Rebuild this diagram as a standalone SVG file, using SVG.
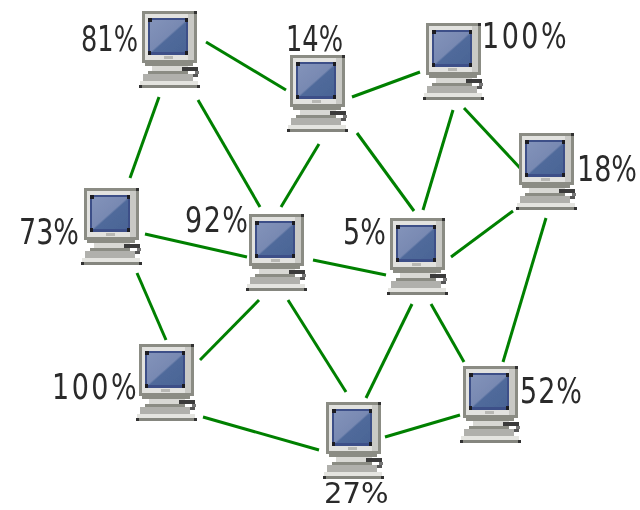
<svg xmlns="http://www.w3.org/2000/svg" width="640" height="510" viewBox="0 0 640 510">
<style>
.e{stroke:#008000;stroke-width:3;fill:none}
.l{font-family:"DejaVu Sans",sans-serif;font-size:27px;fill:#2a2a2a}
.n{filter:url(#soft)}
</style>
<defs>
<filter id="soft" x="-10%" y="-10%" width="120%" height="120%"><feGaussianBlur stdDeviation="0.6"/></filter>
<linearGradient id="s" x1="0" y1="0" x2="1" y2="1"><stop offset="0" stop-color="#8393ba"/><stop offset="0.5" stop-color="#7889b2"/><stop offset="0.54" stop-color="#506a9b"/><stop offset="1" stop-color="#4a6495"/></linearGradient>
<g id="pc">
<rect x="0" y="0" width="55" height="52" fill="#8b8c84"/>
<rect x="3" y="3" width="49" height="46" fill="#e2e2df"/>
<rect x="46" y="3" width="6" height="46" fill="#c9c9c5"/>
<rect x="6" y="7" width="40" height="37" fill="#3c5088"/>
<rect x="8" y="9" width="36" height="32" fill="url(#s)"/>
<rect x="6" y="7" width="4" height="4" fill="#1e1e22"/><rect x="43" y="7" width="3" height="4" fill="#1e1e22"/>
<rect x="6" y="40" width="3" height="4" fill="#1e1e22"/><rect x="43" y="40" width="3" height="4" fill="#1e1e22"/>
<rect x="22" y="45" width="9" height="3" fill="#b8b8b4"/>
<rect x="52" y="0" width="3" height="3" fill="#333"/>
<rect x="3" y="52" width="48" height="3" fill="#8b8c84"/>
<rect x="10" y="55" width="36" height="5" fill="#d8d8d4"/>
<rect x="40" y="56" width="16" height="4" fill="#3a3a3a"/>
<rect x="53" y="60" width="4" height="3" fill="#777"/>
<rect x="50" y="63" width="6" height="3" fill="#555"/>
<rect x="6" y="60" width="40" height="3" fill="#8b8c84"/>
<rect x="1" y="63" width="50" height="7" fill="#b0b0ac"/>
<rect x="-2" y="70" width="58" height="4" fill="#e4e4e0"/>
<rect x="-3" y="74" width="61" height="3" fill="#85867f"/>
<rect x="-3" y="74" width="3" height="3" fill="#333"/><rect x="55" y="74" width="3" height="3" fill="#333"/>
</g>
</defs>
<g id="connectors">
<path class="e" d="M206 42L286 90"/>
<path class="e" d="M159 97L130 178"/>
<path class="e" d="M198 100L260 207"/>
<path class="e" d="M352 97L420 72"/>
<path class="e" d="M319 144L281 207"/>
<path class="e" d="M357 133L414 211"/>
<path class="e" d="M453 110L423 210"/>
<path class="e" d="M464 108L520 168"/>
<path class="e" d="M513 211L451 257"/>
<path class="e" d="M546 218L503 362"/>
<path class="e" d="M145 234L247 257"/>
<path class="e" d="M137 273L166 340"/>
<path class="e" d="M313 260L386 275"/>
<path class="e" d="M259 300L200 360"/>
<path class="e" d="M288 300L346 392"/>
<path class="e" d="M412 304L366 398"/>
<path class="e" d="M431 304L464 362"/>
<path class="e" d="M203 417L319 450"/>
<path class="e" d="M385 437L460 415"/>
</g>
<g id="n1" class="n"><use href="#pc" x="142" y="11"/><text class="l" transform="translate(81 51) scale(0.95 1.3)">81%</text></g>
<g id="n2" class="n"><use href="#pc" x="290" y="55"/><text class="l" transform="translate(286 51) scale(0.95 1.3)">14%</text></g>
<g id="n3" class="n"><use href="#pc" x="426" y="23"/><text class="l" transform="translate(482 48) scale(1 1.3)" letter-spacing="2.5">100%</text></g>
<g id="n4" class="n"><use href="#pc" x="519" y="133"/><text class="l" transform="translate(577 181) scale(1 1.3)">18%</text></g>
<g id="n5" class="n"><use href="#pc" x="84" y="188"/><text class="l" transform="translate(19 244) scale(1 1.3)">73%</text></g>
<g id="n6" class="n"><use href="#pc" x="249" y="214"/><text class="l" transform="translate(185 232) scale(1 1.3)" letter-spacing="1.5">92%</text></g>
<g id="n7" class="n"><use href="#pc" x="390" y="218"/><text class="l" transform="translate(343 244) scale(1 1.3)">5%</text></g>
<g id="n8" class="n"><use href="#pc" x="139" y="344"/><text class="l" transform="translate(52 399) scale(1 1.3)" letter-spacing="2.5">100%</text></g>
<g id="n9" class="n"><use href="#pc" x="326" y="402"/><text class="l" x="324" y="503" style="font-size:29px">27%</text></g>
<g id="n10" class="n"><use href="#pc" x="463" y="366"/><text class="l" transform="translate(520 403) scale(1 1.3)" letter-spacing="1">52%</text></g>
</svg>
